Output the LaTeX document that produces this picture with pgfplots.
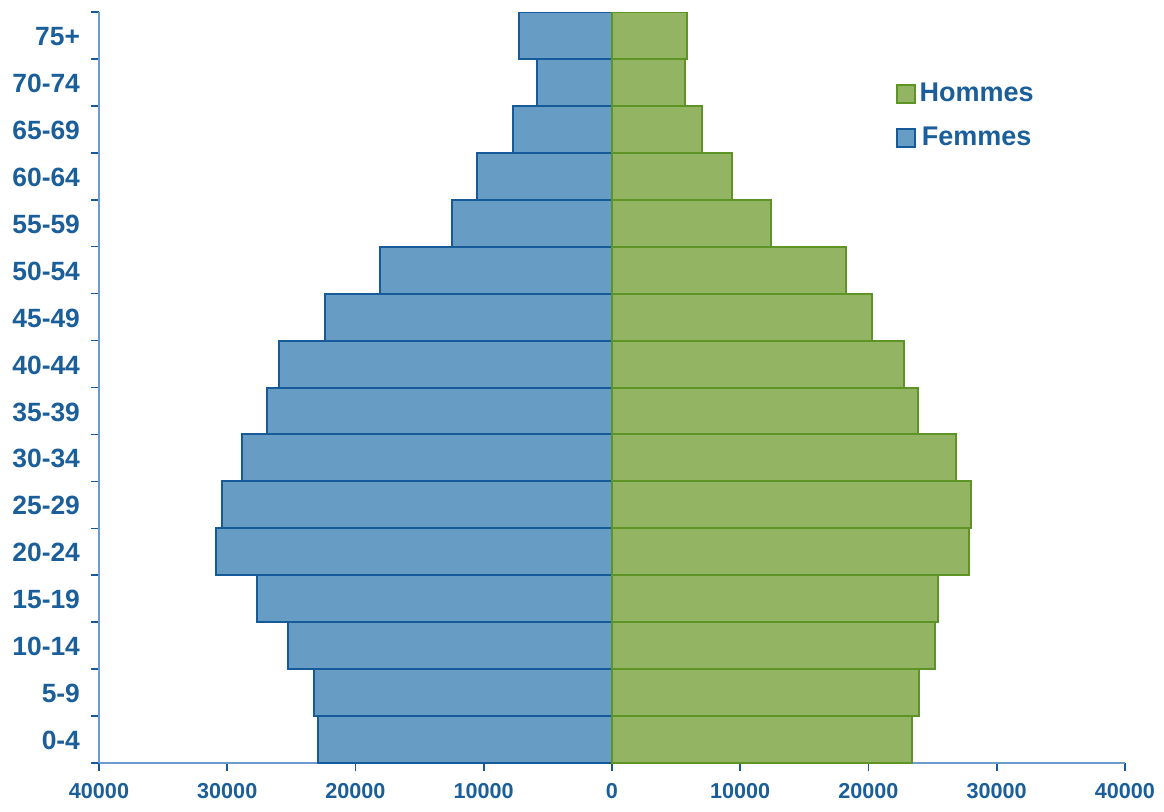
\documentclass[border=0pt]{standalone}
\usepackage{pgfplots}
\pgfplotsset{compat=1.18}
\usepackage{pgfplotstable}
\usepackage{fontspec}
\setmainfont{Liberation Sans}
\definecolor{txtblue}{HTML}{1A5E9A}
\definecolor{femfill}{HTML}{679DC4}
\definecolor{femedge}{HTML}{165A9A}
\definecolor{homfill}{HTML}{93B462}
\definecolor{homedge}{HTML}{5E9426}
\definecolor{axblue}{HTML}{6D9BCB}

\pgfplotsset{sqlegend/.style={legend image code/.code={\draw[##1] (0pt,-4.5pt) rectangle (9pt,4.5pt);}}}

% idx: 0 = 0-4 ... 15 = 75+
\pgfplotstableread{
idx fem hom
0  -22950 23420
1  -23260 23970
2  -25290 25210
3  -27710 25450
4  -30910 27870
5  -30370 28020
6  -28880 26850
7  -26930 23890
8  -26000 22800
9  -22400 20300
10 -18110 18270
11 -12490 12410
12 -10540 9370
13 -7730  7030
14 -5855  5700
15 -7260  5850
}\pyramide

\begin{document}
\begin{tikzpicture}
\path[use as bounding box] (-49.5pt,-24pt) rectangle (532.5pt,381.5pt);
\begin{axis}[
    at={(0pt,0pt)}, anchor=south west,
    scale only axis, width=513pt, height=375.5pt,
    xmin=-40000, xmax=40000, ymin=-0.5, ymax=15.5,
    axis lines*=left,
    axis line style={draw=axblue, line width=0.8pt},
    xbar, bar width=1,
    xtick={-40000,-30000,-20000,-10000,0,10000,20000,30000,40000},
    xticklabels={40000,30000,20000,10000,0,10000,20000,30000,40000},
    ytick={-0.5,0.5,...,15.5}, yticklabels={},
    extra y ticks={0,1,...,15},
    extra y tick labels={0-4,5-9,10-14,15-19,20-24,25-29,30-34,35-39,40-44,45-49,50-54,55-59,60-64,65-69,70-74,75+},
    extra y tick style={major tick length=0pt, yticklabel style={font=\bfseries\fontsize{13.2}{15}\selectfont, text=txtblue, anchor=east, xshift=-6pt, yshift=-0.5pt}},
    tick align=outside, major tick length=4pt,
    tick style={draw=femedge, line width=0.8pt},
    xticklabel style={font=\bfseries\fontsize{10.8}{13}\selectfont, text=txtblue, yshift=-2.5pt},
    reverse legend,
    legend style={at={(rel axis cs:0.776,0.911)}, anchor=north west, draw=none, fill=none,
        font=\bfseries\fontsize{13.5}{15}\selectfont, text=txtblue, row sep=7pt,
        inner sep=0pt, nodes={inner sep=2pt}},
]
\addplot[xbar, bar shift=0pt, fill=femfill, draw=femedge, line width=1pt, sqlegend]
    table[x=fem, y=idx] {\pyramide};
\addlegendentry{Femmes}
\addplot[xbar, bar shift=0pt, fill=homfill, draw=homedge, line width=1pt, sqlegend]
    table[x=hom, y=idx] {\pyramide};
\addlegendentry{Hommes}
\end{axis}
\end{tikzpicture}
\end{document}
